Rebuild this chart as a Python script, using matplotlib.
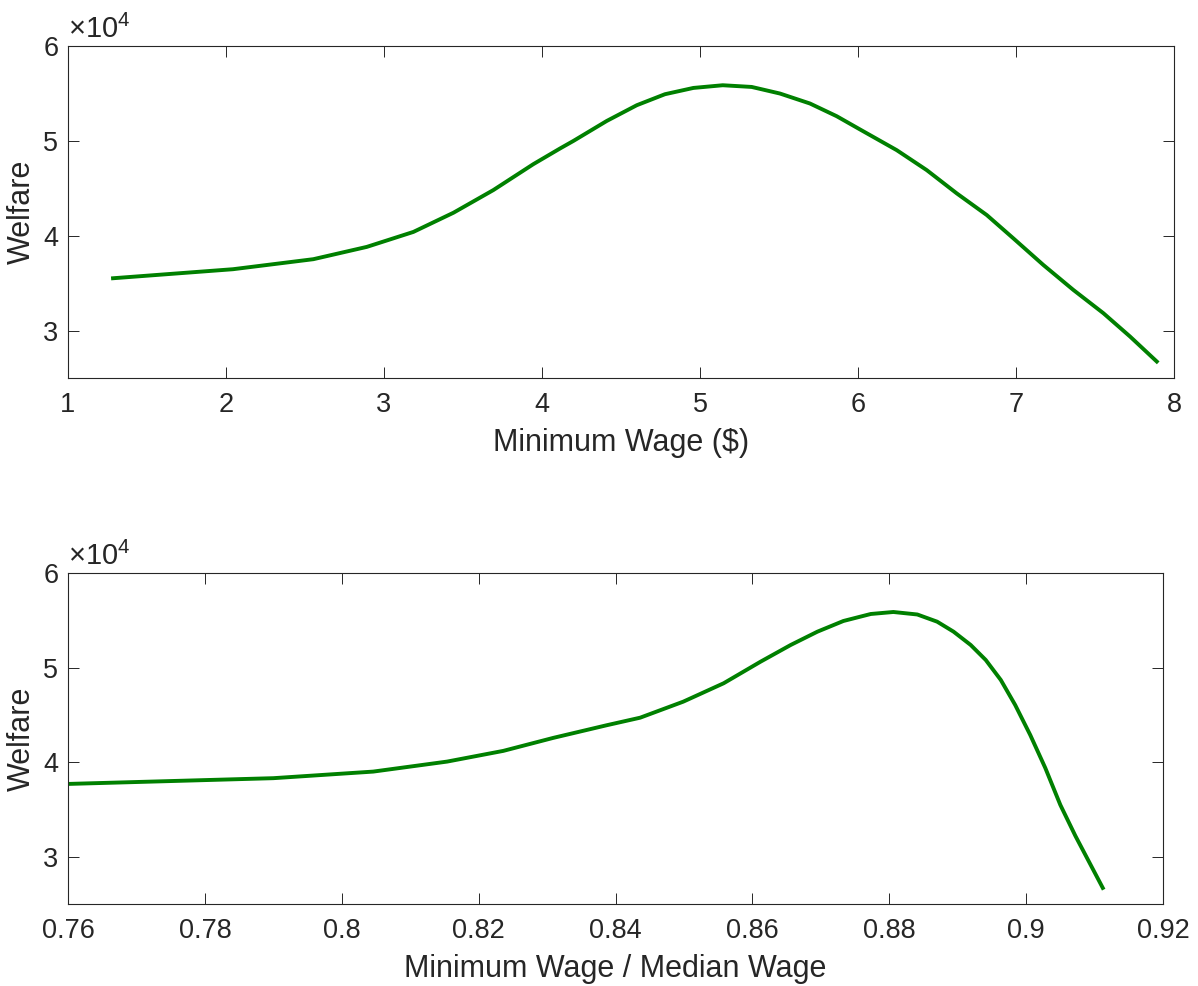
import matplotlib
matplotlib.use("Agg")
import matplotlib.pyplot as plt

# top panel: welfare against minimum wage in dollars
wage = [1.285, 2.044, 2.553, 2.891, 3.186, 3.440, 3.692, 3.945, 4.114, 4.199,
        4.410, 4.600, 4.778, 4.958, 5.144, 5.327, 5.506, 5.696, 5.865, 6.013,
        6.245, 6.435, 6.625, 6.815, 6.983, 7.173, 7.363, 7.553, 7.722, 7.891]
welfare_wage = [35516, 36468, 37526, 38821, 40400, 42426, 44811, 47542, 49195, 49995,
                52100, 53758, 54916, 55579, 55863, 55684, 54989, 53937, 52600, 51200,
                49021, 46916, 44463, 42179, 39726, 36916, 34284, 31832, 29368, 26737]

# bottom panel: welfare against minimum wage / median wage
ratio = [0.7600, 0.7759, 0.7900, 0.8046, 0.8154, 0.8236, 0.8309, 0.8387, 0.8436,
         0.8499, 0.8558, 0.8612, 0.8656, 0.8695, 0.8733, 0.8773, 0.8806, 0.8841,
         0.8870, 0.8894, 0.8919, 0.8941, 0.8963, 0.8984, 0.9006, 0.9028, 0.9050,
         0.9072, 0.9112]
welfare_ratio = [37696, 38018, 38304, 39001, 40059, 41190, 42564, 43900, 44700,
                 46395, 48340, 50624, 52389, 53795, 54926, 55666, 55877, 55613,
                 54852, 53795, 52389, 50803, 48689, 46047, 42875, 39387, 35476,
                 32200, 26700]

y_ticks = [30000, 40000, 50000, 60000]
y_labels = ["3", "4", "5", "6"]
wage_ticks = [1, 2, 3, 4, 5, 6, 7, 8]
ratio_ticks = [0.76, 0.78, 0.8, 0.82, 0.84, 0.86, 0.88, 0.9, 0.92]
ratio_labels = ["0.76", "0.78", "0.8", "0.82", "0.84", "0.86", "0.88", "0.9", "0.92"]

DARK = "#262626"
GREEN = "#008000"

plt.rcParams["font.family"] = ["Liberation Sans", "DejaVu Sans"]
plt.rcParams["mathtext.fontset"] = "custom"
plt.rcParams["mathtext.rm"] = "Liberation Sans"
plt.rcParams["mathtext.it"] = "Liberation Sans"
plt.rcParams["text.color"] = DARK
plt.rcParams["axes.labelcolor"] = DARK

fig = plt.figure(figsize=(11.98, 9.86), dpi=100)
ax_top = fig.add_axes([68 / 1198, 1 - 378 / 986, 1106 / 1198, 332 / 986])
ax_bot = fig.add_axes([68 / 1198, 1 - 904 / 986, 1095 / 1198, 331 / 986])


def style_axes(ax):
    for spine in ax.spines.values():
        spine.set_color(DARK)
        spine.set_linewidth(0.8)
    ax.tick_params(direction="in", length=8, width=0.7, colors=DARK,
                   labelsize=19.5, top=True, right=True)
    ax.tick_params(axis="x", pad=10)
    ax.tick_params(axis="y", pad=7)
    ax.set_ylim(25000, 60000)
    ax.set_yticks(y_ticks)
    ax.set_yticklabels(y_labels)
    ax.set_ylabel("Welfare", fontsize=22, labelpad=4.5)
    ax.text(0, 1.006, r"$\times10^{4}$", transform=ax.transAxes,
            fontsize=21, color=DARK, ha="left", va="bottom")


ax_top.plot(wage, welfare_wage, color=GREEN, lw=2.8)
style_axes(ax_top)
ax_top.set_xlim(1, 8)
ax_top.set_xticks(wage_ticks)
ax_top.set_xlabel("Minimum Wage ($)", fontsize=22, labelpad=7.5)

ax_bot.plot(ratio, welfare_ratio, color=GREEN, lw=2.8)
style_axes(ax_bot)
ax_bot.set_xlim(0.76, 0.92)
ax_bot.set_xticks(ratio_ticks)
ax_bot.set_xticklabels(ratio_labels)
ax_bot.set_xlabel("Minimum Wage / Median Wage", fontsize=22, labelpad=7.5)

fig.savefig("out.png", dpi=100)
